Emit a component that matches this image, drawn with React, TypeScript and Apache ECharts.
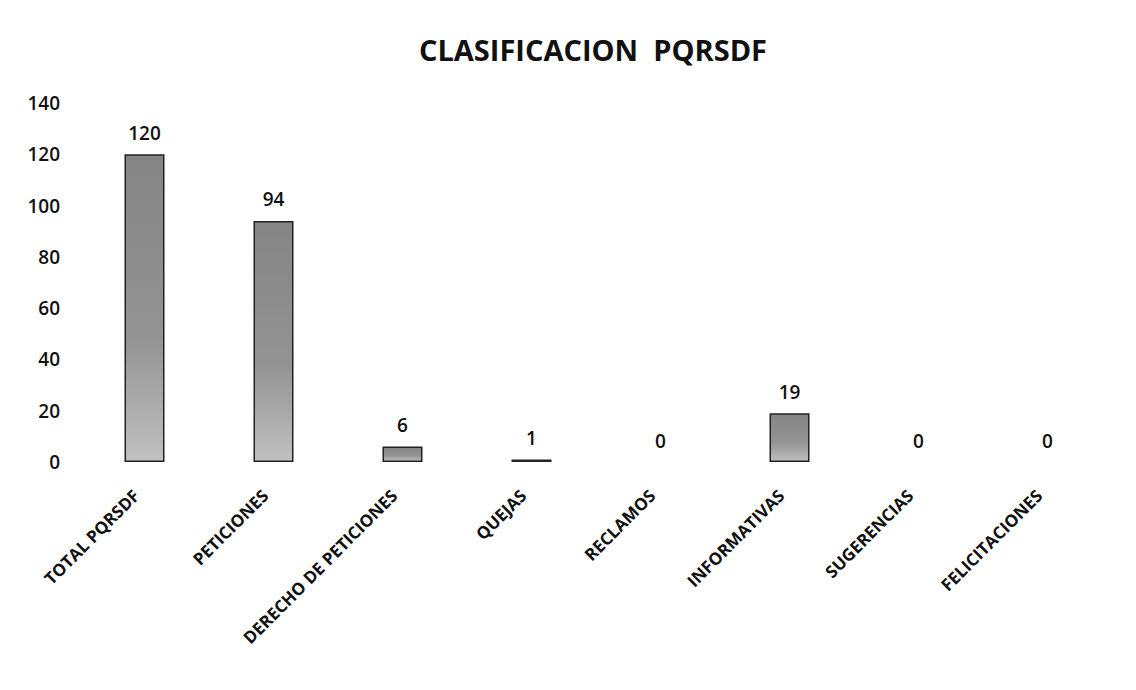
import React, { useEffect, useRef } from "react";
import * as echarts from "echarts";

const title = "CLASIFICACION  PQRSDF";
const categories = [
  "TOTAL PQRSDF",
  "PETICIONES",
  "DERECHO DE PETICIONES",
  "QUEJAS",
  "RECLAMOS",
  "INFORMATIVAS",
  "SUGERENCIAS",
  "FELICITACIONES",
];
const values = [120, 94, 6, 1, 0, 19, 0, 0];
const yMin = 0;
const yMax = 140;
const yInterval = 20;

const FONT = "'Open Sans', 'Liberation Sans', sans-serif";

export default function App() {
  const ref = useRef<HTMLDivElement>(null);
  useEffect(() => {
    if (!ref.current) return;
    const chart = echarts.init(ref.current, undefined, { renderer: "svg" });
    chart.setOption({
      animation: false,
      backgroundColor: "#ffffff",
      title: {
        text: title,
        left: 588,
        top: 30,
        textAlign: "center",
        textStyle: { fontFamily: FONT, fontSize: 29, fontWeight: "bold", color: "#111" },
      },
      grid: { left: 80, right: 24, top: 103, bottom: 228, containLabel: false },
      xAxis: {
        type: "category",
        data: categories,
        axisLine: { show: false },
        axisTick: { show: false },
        axisLabel: {
          rotate: 45,
          margin: 22,
          interval: 0,
          padding: [0, 12, 0, 0],
          fontFamily: FONT,
          fontSize: 17,
          fontWeight: "bold",
          color: "#111",
        },
      },
      yAxis: {
        type: "value",
        min: yMin,
        max: yMax,
        interval: yInterval,
        axisLine: { show: false },
        axisTick: { show: false },
        splitLine: { show: false },
        axisLabel: {
          margin: 20,
          fontFamily: FONT,
          fontSize: 19,
          fontWeight: 600,
          color: "#111",
        },
      },
      series: [
        {
          type: "bar",
          data: values.map((v) => ({
            value: v,
            itemStyle: v === 0 ? { borderWidth: 0, opacity: 0 } : undefined,
          })),
          barWidth: 40,
          itemStyle: {
            color: new echarts.graphic.LinearGradient(0, 0, 0, 1, [
              { offset: 0, color: "#858585" },
              { offset: 0.6, color: "#939393" },
              { offset: 1, color: "#c0c0c0" },
            ]),
            borderColor: "#222",
            borderWidth: 1.5,
          },
          label: {
            show: true,
            position: "top",
            distance: 12,
            fontFamily: FONT,
            fontSize: 19,
            fontWeight: 600,
            color: "#111",
            opacity: 1,
          },
        },
      ],
    });
    return () => chart.dispose();
  }, []);
  return (
    <div
      ref={ref}
      style={{ position: "absolute", left: 0, top: 0, width: 1136, height: 690 }}
    />
  );
}
